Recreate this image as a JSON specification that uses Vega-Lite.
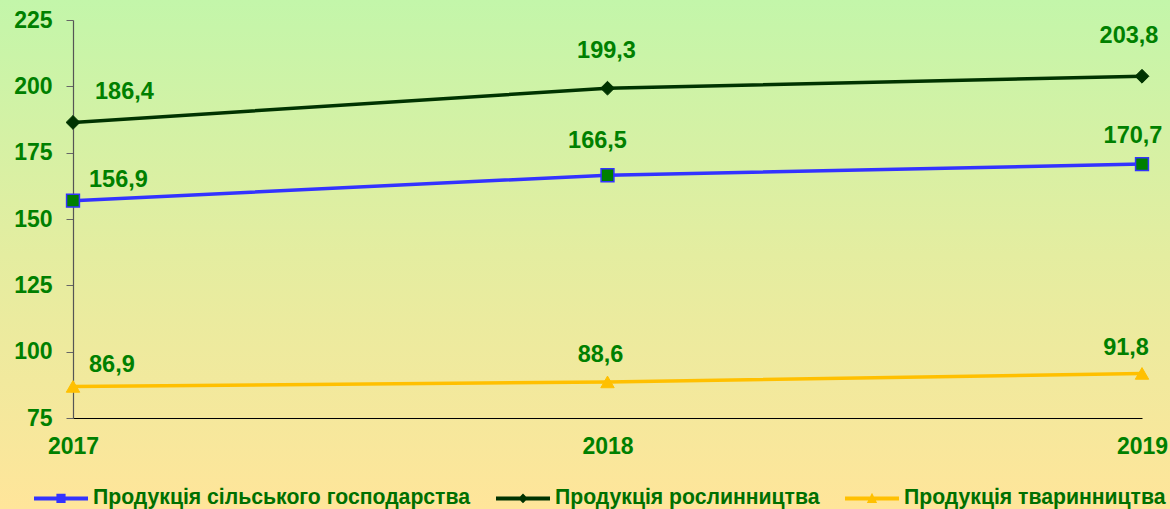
{
  "$schema": "https://vega.github.io/schema/vega-lite/v6.json",
  "width": 1170,
  "height": 509,
  "autosize": {"type": "none"},
  "padding": 0,
  "background": "#FFE59A",
  "config": {
    "view": {
      "stroke": null,
      "fill": {"gradient": "linear", "x1": 0, "y1": 0, "x2": 0, "y2": 1,
        "stops": [{"offset": 0, "color": "#C3F6AA"}, {"offset": 0.5, "color": "#E4EDA0"}, {"offset": 1, "color": "#FFE59A"}]}
    },
    "locale": {"number": {"decimal": ",", "thousands": " ", "grouping": [3], "currency": ["", ""]}},
    "font": "Liberation Sans",
    "text": {"font": "Liberation Sans", "fontSize": 23.5, "fontWeight": "bold", "fill": "#008000", "baseline": "middle"}
  },
  "data": {
    "values": [
      {"year": "2017", "series": "Продукція сільського господарства", "value": 156.9},
      {"year": "2018", "series": "Продукція сільського господарства", "value": 166.5},
      {"year": "2019", "series": "Продукція сільського господарства", "value": 170.7},
      {"year": "2017", "series": "Продукція рослинництва", "value": 186.4},
      {"year": "2018", "series": "Продукція рослинництва", "value": 199.3},
      {"year": "2019", "series": "Продукція рослинництва", "value": 203.8},
      {"year": "2017", "series": "Продукція тваринництва", "value": 86.9},
      {"year": "2018", "series": "Продукція тваринництва", "value": 88.6},
      {"year": "2019", "series": "Продукція тваринництва", "value": 91.8}
    ]
  },
  "encoding": {
    "x": {
      "field": "year", "type": "ordinal",
      "scale": {"type": "point", "padding": 0, "range": [73, 1142]},
      "axis": {"title": null, "orient": "bottom", "offset": -91, "ticks": false, "domainColor": "#000000", "domainWidth": 1.2,
        "labelFont": "Liberation Sans", "labelFontSize": 23, "labelFontWeight": "bold", "labelColor": "#008000",
        "labelPadding": 17, "labelAngle": 0, "labelOverlap": false, "labelBound": false, "labelFlush": false, "grid": false}
    },
    "y": {
      "field": "value", "type": "quantitative",
      "scale": {"domain": [75, 225], "range": [418, 20], "zero": false, "nice": false},
      "axis": {"title": null, "offset": -73, "values": [75, 100, 125, 150, 175, 200, 225], "format": "d",
        "tickSize": 7, "tickColor": "#666666", "domainColor": "#555555", "domainWidth": 1.2,
        "labelPadding": 14, "labelFont": "Liberation Sans", "labelFontSize": 23, "labelFontWeight": "bold", "labelColor": "#008000",
        "grid": false, "labelFlush": false, "labelBound": false, "labelOverlap": false}
    }
  },
  "layer": [
    {
      "mark": {"type": "line", "strokeWidth": 3.5},
      "encoding": {
        "color": {
          "field": "series", "type": "nominal",
          "scale": {"domain": ["Продукція сільського господарства", "Продукція рослинництва", "Продукція тваринництва"],
            "range": ["#3333FF", "#003300", "#FFC000"]},
          "legend": {
            "orient": "none", "legendX": 34, "legendY": 471, "direction": "horizontal", "title": null,
            "symbolSize": 2916, "labelOffset": 5, "columnPadding": 25,
            "labelFont": "Liberation Sans", "labelFontSize": 21.2, "labelFontWeight": "bold", "labelColor": "#007000", "labelLimit": 600,
            "encode": {
              "symbols": {
                "update": {
                  "shape": {"signal": "datum.value === 'Продукція сільського господарства' ? 'M-1,-0.075H1V0.075H-1Z M-0.17,-0.17H0.17V0.17H-0.17Z' : datum.value === 'Продукція рослинництва' ? 'M-1,-0.075H1V0.075H-1Z M0,-0.18L0.18,0L0,0.18L-0.18,0Z' : 'M-1,-0.075H1V0.075H-1Z M0,-0.21L0.19,0.17L-0.19,0.17Z'"},
                  "fill": {"signal": "scale('color', datum.value)"},
                  "stroke": {"value": "transparent"},
                  "strokeWidth": {"value": 0},
                  "opacity": {"value": 1}
                }
              }
            }
          }
        }
      }
    },
    {
      "transform": [{"filter": "datum.series === 'Продукція сільського господарства'"}],
      "mark": {"type": "point", "shape": "square", "filled": true, "opacity": 1, "fill": "#008000", "stroke": "#3333FF", "strokeWidth": 1.5, "size": 165}
    },
    {
      "transform": [{"filter": "datum.series === 'Продукція рослинництва'"}],
      "mark": {"type": "point", "shape": "diamond", "filled": true, "opacity": 1, "fill": "#003300", "stroke": "#003300", "strokeWidth": 1, "size": 190}
    },
    {
      "transform": [{"filter": "datum.series === 'Продукція тваринництва'"}],
      "mark": {"type": "point", "shape": "triangle-up", "filled": true, "opacity": 1, "fill": "#FFC000", "stroke": "#FFC000", "strokeWidth": 1, "size": 180}
    },
    {
      "transform": [{"filter": "datum.year === '2017' && datum.series === 'Продукція рослинництва'"}],
      "mark": {"type": "text", "align": "left", "dx": 22, "dy": -30},
      "encoding": {"text": {"field": "value", "type": "quantitative", "format": ".1f"}}
    },
    {
      "transform": [{"filter": "datum.year === '2017' && datum.series !== 'Продукція рослинництва'"}],
      "mark": {"type": "text", "align": "left", "dx": 16, "dy": -21},
      "encoding": {"text": {"field": "value", "type": "quantitative", "format": ".1f"}}
    },
    {
      "transform": [{"filter": "datum.year === '2018' && datum.series === 'Продукція рослинництва'"}],
      "mark": {"type": "text", "align": "center", "dx": -1, "dy": -37},
      "encoding": {"text": {"field": "value", "type": "quantitative", "format": ".1f"}}
    },
    {
      "transform": [{"filter": "datum.year === '2018' && datum.series === 'Продукція сільського господарства'"}],
      "mark": {"type": "text", "align": "center", "dx": -10, "dy": -34},
      "encoding": {"text": {"field": "value", "type": "quantitative", "format": ".1f"}}
    },
    {
      "transform": [{"filter": "datum.year === '2018' && datum.series === 'Продукція тваринництва'"}],
      "mark": {"type": "text", "align": "center", "dx": -7, "dy": -27},
      "encoding": {"text": {"field": "value", "type": "quantitative", "format": ".1f"}}
    },
    {
      "transform": [{"filter": "datum.year === '2019' && datum.series === 'Продукція рослинництва'"}],
      "mark": {"type": "text", "align": "center", "dx": -13, "dy": -40},
      "encoding": {"text": {"field": "value", "type": "quantitative", "format": ".1f"}}
    },
    {
      "transform": [{"filter": "datum.year === '2019' && datum.series === 'Продукція сільського господарства'"}],
      "mark": {"type": "text", "align": "center", "dx": -9, "dy": -28},
      "encoding": {"text": {"field": "value", "type": "quantitative", "format": ".1f"}}
    },
    {
      "transform": [{"filter": "datum.year === '2019' && datum.series === 'Продукція тваринництва'"}],
      "mark": {"type": "text", "align": "center", "dx": -16, "dy": -25},
      "encoding": {"text": {"field": "value", "type": "quantitative", "format": ".1f"}}
    }
  ]
}
